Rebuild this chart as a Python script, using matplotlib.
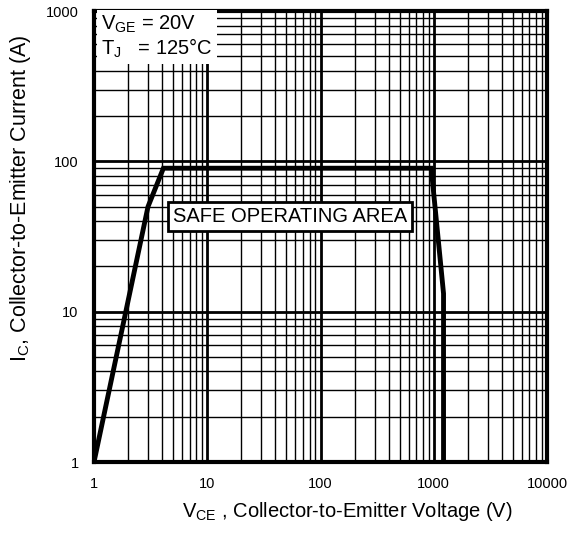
import matplotlib
matplotlib.use("Agg")
import matplotlib.pyplot as plt
from matplotlib.ticker import FixedLocator, NullFormatter, LogLocator

plt.rcParams['font.family'] = ['Liberation Sans', 'DejaVu Sans']

# SOA boundary
vce = [1, 3.0, 4.1, 950, 1220, 1220]
ic = [1, 50, 90, 90, 13.2, 1]

x_ticks = [1, 10, 100, 1000, 10000]
x_labels = ['1', '10', '100', '1000', '10000']
y_ticks = [1, 10, 100, 1000]
y_labels = ['1', '10', '100', '1000']

fig = plt.figure(figsize=(5.78, 5.33), dpi=100)
ax = fig.add_axes([94/578, 1 - 462/533, (547-94)/578, (462-11)/533])
ax.set_xscale('log')
ax.set_yscale('log')
ax.set_xlim(1, 10000)
ax.set_ylim(1, 1000)

ax.xaxis.set_major_locator(FixedLocator(x_ticks))
ax.yaxis.set_major_locator(FixedLocator(y_ticks))
ax.set_xticklabels(x_labels)
ax.set_yticklabels(y_labels)
ax.xaxis.set_minor_locator(LogLocator(base=10, subs=range(2, 10), numticks=20))
ax.yaxis.set_minor_locator(LogLocator(base=10, subs=range(2, 10), numticks=20))
ax.xaxis.set_minor_formatter(NullFormatter())
ax.yaxis.set_minor_formatter(NullFormatter())

ax.grid(True, which='major', color='black', linewidth=2.0)
ax.grid(True, which='minor', color='black', linewidth=1.0)
ax.tick_params(which='both', length=0, labelsize=10.5, pad=11)
for s in ax.spines.values():
    s.set_linewidth(3)

ax.plot(vce, ic, color='black', linewidth=3.5, solid_joinstyle='miter', zorder=5)

ax.text(54, 43, 'SAFE OPERATING AREA', fontsize=14.5, ha='center', va='center',
        zorder=6,
        bbox=dict(facecolor='white', edgecolor='black', linewidth=2, pad=3.5))

ax.text(0.015, 0.993, '$\\mathregular{V_{GE}}$ = 20V\n$\\mathregular{T_{J}}$   = 125°C',
        transform=ax.transAxes, fontsize=14.5, ha='left', va='top', zorder=6,
        linespacing=1.05,
        bbox=dict(facecolor='white', edgecolor='none', pad=3))

ax.set_xlabel('$\\mathregular{V_{CE}}$ , Collector-to-Emitter Voltage (V)',
              fontsize=14.5)
ax.set_ylabel('$\\mathregular{I_{C}}$, Collector-to-Emitter Current (A)',
              fontsize=15.5)
ax.xaxis.set_label_coords(0.56, -0.085)
ax.yaxis.set_label_coords(-0.135, 0.585)

fig.savefig('out.png', dpi=100)
